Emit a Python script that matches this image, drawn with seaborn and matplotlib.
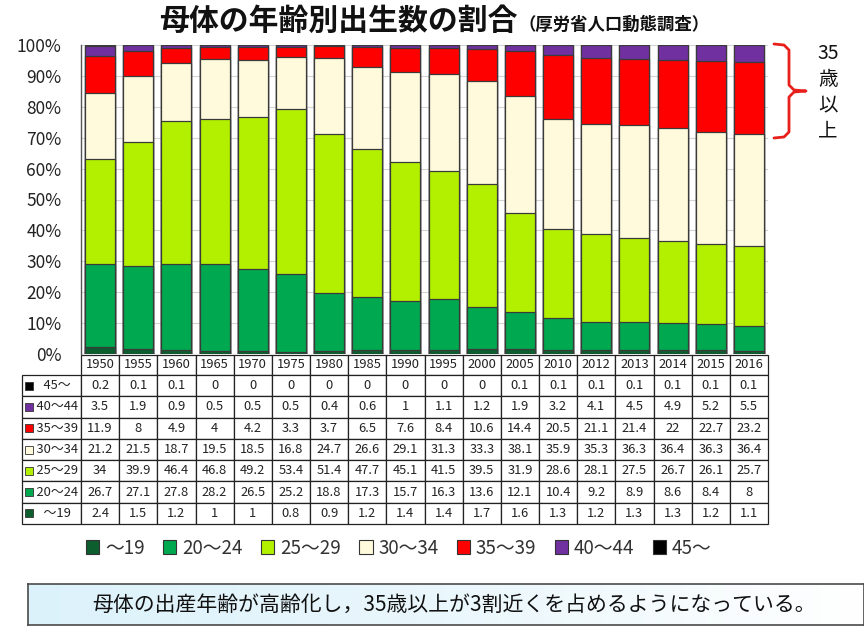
import numpy as np
import pandas as pd
import seaborn as sns
import matplotlib.pyplot as plt
from matplotlib.patches import Patch, Rectangle
from matplotlib.lines import Line2D
from matplotlib.colors import LinearSegmentedColormap

# data (share of births by mother's age, %)
years = ["1950", "1955", "1960", "1965", "1970", "1975", "1980", "1985", "1990",
         "1995", "2000", "2005", "2010", "2012", "2013", "2014", "2015", "2016"]
age_groups = ["～19", "20～24", "25～29", "30～34", "35～39", "40～44", "45～"]

age_19 = [2.4, 1.5, 1.2, 1, 1, 0.8, 0.9, 1.2, 1.4, 1.4, 1.7, 1.6, 1.3, 1.2, 1.3, 1.3, 1.2, 1.1]
age_20_24 = [26.7, 27.1, 27.8, 28.2, 26.5, 25.2, 18.8, 17.3, 15.7, 16.3, 13.6, 12.1, 10.4, 9.2, 8.9, 8.6, 8.4, 8.0]
age_25_29 = [34, 39.9, 46.4, 46.8, 49.2, 53.4, 51.4, 47.7, 45.1, 41.5, 39.5, 31.9, 28.6, 28.1, 27.5, 26.7, 26.1, 25.7]
age_30_34 = [21.2, 21.5, 18.7, 19.5, 18.5, 16.8, 24.7, 26.6, 29.1, 31.3, 33.3, 38.1, 35.9, 35.3, 36.3, 36.4, 36.3, 36.4]
age_35_39 = [11.9, 8, 4.9, 4, 4.2, 3.3, 3.7, 6.5, 7.6, 8.4, 10.6, 14.4, 20.5, 21.1, 21.4, 22.0, 22.7, 23.2]
age_40_44 = [3.5, 1.9, 0.9, 0.5, 0.5, 0.5, 0.4, 0.6, 1, 1.1, 1.2, 1.9, 3.2, 4.1, 4.5, 4.9, 5.2, 5.5]
age_45 = [0.2, 0.1, 0.1, 0, 0, 0, 0, 0, 0, 0, 0, 0.1, 0.1, 0.1, 0.1, 0.1, 0.1, 0.1]

colors = ["#0d5e2f", "#00a84f", "#b2f000", "#fffadc", "#ff0000", "#7030a0", "#000000"]

df = pd.DataFrame({"year": years})
for g, v in zip(age_groups, [age_19, age_20_24, age_25_29, age_30_34, age_35_39, age_40_44, age_45]):
    df[g] = v
# 100% stacked: normalise each year, then cumulative tops
shares = df[age_groups].div(df[age_groups].sum(axis=1), axis=0) * 100
cum = shares.cumsum(axis=1)
cum["year"] = years

sns.set_theme(style="white")
plt.rcParams["font.family"] = ["Noto Sans CJK JP", "DejaVu Sans"]

W, H = 864, 639
fx = lambda px: px / W
fy = lambda py: 1 - py / H

fig = plt.figure(figsize=(8.64, 6.39), dpi=100)
ax_l, ax_r, ax_t, ax_b = 81, 768, 45, 354
ax = fig.add_axes([fx(ax_l), fy(ax_b), (ax_r - ax_l) / W, (ax_b - ax_t) / H])

# draw from the top group down so each shorter bar overlays the previous
for g, c in reversed(list(zip(age_groups, colors))):
    sns.barplot(data=cum, x="year", y=g, color=c, width=0.79, order=years,
                edgecolor="#3a3a3a", linewidth=0.9, saturation=1, ax=ax, zorder=3)

ax.set_ylim(0, 100)
ax.set_yticks(range(0, 101, 10))
ax.set_yticklabels([f"{v}%" for v in range(0, 101, 10)], fontsize=12.5)
ax.tick_params(axis="y", length=0, pad=14, labelcolor="#222222")
ax.set_xticks([])
ax.set_xlabel("")
ax.set_ylabel("")
ax.grid(axis="y", color="#d4d4d4", linewidth=0.8, zorder=0)
ax.set_axisbelow(True)
for s in ["top", "right", "bottom"]:
    ax.spines[s].set_visible(False)
ax.spines["left"].set_color("#555555")
ax.spines["left"].set_linewidth(1.0)

# data table under the bars (label column + one column per year)
tab_left, tab_top, tab_bottom = 22, 355, 524
lab_w, col_w = ax_l - tab_left, (ax_r - ax_l) / len(years)
hdr_h = 20
row_h = (tab_bottom - tab_top - hdr_h) / len(age_groups)
row_order = list(reversed(range(len(age_groups))))
cell_text = [[""] + years]
for i in row_order:
    cell_text.append(["    " + age_groups[i]] + [f"{v:g}" for v in df[age_groups[i]]])

axw, axh = ax_r - ax_l, ax_b - ax_t
tbl = ax.table(cellText=cell_text, cellLoc="center",
               bbox=[-lab_w / axw, -(tab_bottom - ax_b) / axh,
                     (lab_w + axw) / axw, (tab_bottom - tab_top) / axh])
tbl.auto_set_font_size(False)
tbl.set_fontsize(9.3)
for (r, c), cell in tbl.get_celld().items():
    cell.set_edgecolor("#222222")
    cell.set_linewidth(0.9)
    cell.set_height(hdr_h if r == 0 else row_h)
    cell.set_width(lab_w if c == 0 else col_w)
    cell.get_text().set_color("#222222")
    if c == 0:
        cell._loc = "left"
        cell.PAD = 0.02
    if r == 0 and c == 0:
        cell.visible_edges = ""

# coloured squares in the row labels
for k, i in enumerate(row_order):
    yc = tab_top + hdr_h + row_h * (k + 0.5)
    fig.add_artist(Rectangle((fx(25), fy(yc + 4)), 8 / W, 8 / H, transform=fig.transFigure,
                             facecolor=colors[i], edgecolor="#333333", linewidth=0.6))

# legend
handles = [Patch(facecolor=c, edgecolor="#333333", linewidth=0.8) for c in colors]
fig.legend(handles, age_groups, loc="center left", bbox_to_anchor=(fx(86), fy(548)),
           ncol=7, frameon=False, fontsize=13.5, handlelength=0.7, handleheight=0.7,
           handletextpad=0.3, columnspacing=1.0, borderaxespad=0, borderpad=0,
           labelcolor="#333333")

# title
fig.text(fx(518), fy(30), "母体の年齢別出生数の割合", fontsize=21.5, weight="bold",
         ha="right", va="baseline", color="#111111")
fig.text(fx(518), fy(30), "（厚労省人口動態調査）", fontsize=12.5, weight="bold",
         ha="left", va="baseline", color="#111111")

# bracket for 35+
bx = [774, 784, 789, 789, 794, 806, 794, 789, 789, 784, 774]
by = [44, 45, 50, 85, 90, 91, 92, 97, 132, 137, 138]
fig.add_artist(Line2D([fx(v) for v in bx], [fy(v) for v in by], transform=fig.transFigure,
                      color="#e8201c", linewidth=2, solid_joinstyle="round"))
fig.text(fx(828), fy(92), "35\n歳\n以\n上", fontsize=14, ha="center", va="center",
         linespacing=1.3, color="#111111")

# caption box with a light blue to white fade
box_l, box_t, box_b = 28, 584, 625
cap_ax = fig.add_axes([fx(box_l), fy(box_b), (W - box_l) / W, (box_b - box_t) / H])
fade = LinearSegmentedColormap.from_list("fade", ["#dcf2fb", "#eaf7fc", "#ffffff"])
cap_ax.imshow(np.linspace(0, 1, 256)[None, :], cmap=fade, aspect="auto", extent=[0, 1, 0, 1])
cap_ax.set_xticks([])
cap_ax.set_yticks([])
for s in cap_ax.spines.values():
    s.set_color("#4a4a4a")
    s.set_linewidth(1.2)
cap_ax.text((92 - box_l) / (W - box_l), 0.5,
            "母体の出産年齢が高齢化し，35歳以上が3割近くを占めるようになっている。",
            transform=cap_ax.transAxes, fontsize=15, ha="left", va="center", color="#111111")

fig.savefig("out.png", dpi=100)
